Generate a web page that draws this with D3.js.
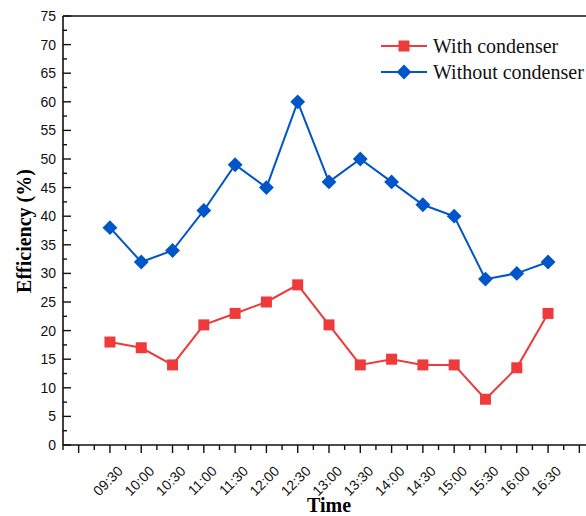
<!DOCTYPE html>
<html>
<head>
<meta charset="utf-8">
<script src="https://cdn.jsdelivr.net/npm/d3@7"></script>
<style>
  body { margin: 0; background: #fff; }
  svg { display: block; }
</style>
</head>
<body>
<div id="plot"></div>
<script>
var w = 586, h = 516;

// data
var times = ['09:30','10:00','10:30','11:00','11:30','12:00','12:30','13:00','13:30','14:00','14:30','15:00','15:30','16:00','16:30'];
var withCondenser = [18,17,14,21,23,25,28,21,14,15,14,14,8,13.5,23];
var withoutCondenser = [38,32,34,41,49,45,60,46,50,46,42,40,29,30,32];
var yTicks = [0,5,10,15,20,25,30,35,40,45,50,55,60,65,70,75];

var red = '#ee3a3a', blue = '#0055c8';

var svg = d3.select('#plot').append('svg')
    .attr('width', w)
    .attr('height', h);

var x = d3.scaleLinear().domain([-1.5, 15.5]).range([63, 595]);
var y = d3.scaleLinear().domain([0, 75]).range([445, 16]);

// frame top line
svg.append('line').attr('x1',63).attr('x2',w).attr('y1',y(75)).attr('y2',y(75))
    .style('stroke','#111').style('stroke-width',1.6);

// y axis: ticks point inside
var yAxis = svg.append('g').attr('transform','translate(63,0)');
yAxis.append('line').attr('x1',0).attr('x2',0).attr('y1',y(0)).attr('y2',y(75))
    .style('stroke','#111').style('stroke-width',1.6);
d3.range(0, 75.1, 2.5).forEach(function(v){
    var major = v % 5 === 0;
    yAxis.append('line').attr('x1',0).attr('x2', major ? 8 : 4)
        .attr('y1',y(v)).attr('y2',y(v))
        .style('stroke','#111').style('stroke-width',1.4);
});
yAxis.selectAll('.ylab').data(yTicks).enter().append('text')
    .attr('class','ylab')
    .attr('x',-7).attr('y',function(d){return y(d)})
    .attr('dy','0.35em')
    .attr('text-anchor','end')
    .style('font-family','Liberation Sans, Arial, sans-serif')
    .style('font-size','14px')
    .style('fill','#111')
    .text(function(d){return d});

// x axis: ticks point outside
var xAxis = svg.append('g').attr('transform','translate(0,445)');
xAxis.append('line').attr('x1',63).attr('x2',w).attr('y1',0).attr('y2',0)
    .style('stroke','#111').style('stroke-width',1.6);
d3.range(-1.5, 15.6, 0.5).forEach(function(v){
    var major = v % 1 === 0;
    xAxis.append('line').attr('x1',x(v)).attr('x2',x(v))
        .attr('y1',0).attr('y2', major ? 8 : 5)
        .style('stroke','#111').style('stroke-width',1.4);
});
xAxis.selectAll('.xlab').data(times).enter().append('text')
    .attr('class','xlab')
    .attr('transform',function(d,i){return 'translate(' + (x(i)+7) + ',20) rotate(-45)'})
    .attr('text-anchor','end')
    .attr('dy','0.7em')
    .style('font-family','Liberation Sans, Arial, sans-serif')
    .style('font-size','14px')
    .style('fill','#111')
    .text(function(d){return d});

// axis titles
svg.append('text')
    .attr('transform','translate(31,231) rotate(-90)')
    .attr('text-anchor','middle')
    .style('font-family','Liberation Serif, Times New Roman, serif')
    .style('font-weight','bold')
    .style('font-size','20px')
    .text('Efficiency (%)');
svg.append('text')
    .attr('x',329).attr('y',512)
    .attr('text-anchor','middle')
    .style('font-family','Liberation Serif, Times New Roman, serif')
    .style('font-weight','bold')
    .style('font-size','20px')
    .text('Time');

var line = d3.line()
    .x(function(d,i){return x(i)})
    .y(function(d){return y(d)});

var squareSym = d3.symbol().type(d3.symbolSquare).size(121);
var diamondSym = d3.symbol().type(d3.symbolSquare).size(110);

// red series
svg.append('path').datum(withCondenser)
    .attr('d',line)
    .style('fill','none').style('stroke',red).style('stroke-width',2);
svg.selectAll('.sq').data(withCondenser).enter().append('path')
    .attr('class','sq')
    .attr('d',squareSym)
    .attr('transform',function(d,i){return 'translate(' + x(i) + ',' + y(d) + ')'})
    .style('fill',red);

// blue series
svg.append('path').datum(withoutCondenser)
    .attr('d',line)
    .style('fill','none').style('stroke',blue).style('stroke-width',2);
svg.selectAll('.dm').data(withoutCondenser).enter().append('path')
    .attr('class','dm')
    .attr('d',diamondSym)
    .attr('transform',function(d,i){return 'translate(' + x(i) + ',' + y(d) + ') rotate(45)'})
    .style('fill',blue);

// legend
var legend = [
    {name:'With condenser', color:red, sym:squareSym, rot:0, y:46},
    {name:'Without condenser', color:blue, sym:diamondSym, rot:45, y:72}
];
var lg = svg.selectAll('.lg').data(legend).enter().append('g')
    .attr('class','lg')
    .attr('transform',function(d){return 'translate(381,' + d.y + ')'});
lg.append('line').attr('x1',0).attr('x2',46).attr('y1',0).attr('y2',0)
    .style('stroke',function(d){return d.color}).style('stroke-width',2);
lg.append('path')
    .attr('d',function(d){return d.sym()})
    .attr('transform',function(d){return 'translate(23,0) rotate(' + d.rot + ')'})
    .style('fill',function(d){return d.color});
lg.append('text')
    .attr('x',52).attr('dy','0.33em')
    .style('font-family','Liberation Serif, Times New Roman, serif')
    .style('font-size','20px')
    .style('fill','#111')
    .text(function(d){return d.name});
</script>
</body>
</html>
